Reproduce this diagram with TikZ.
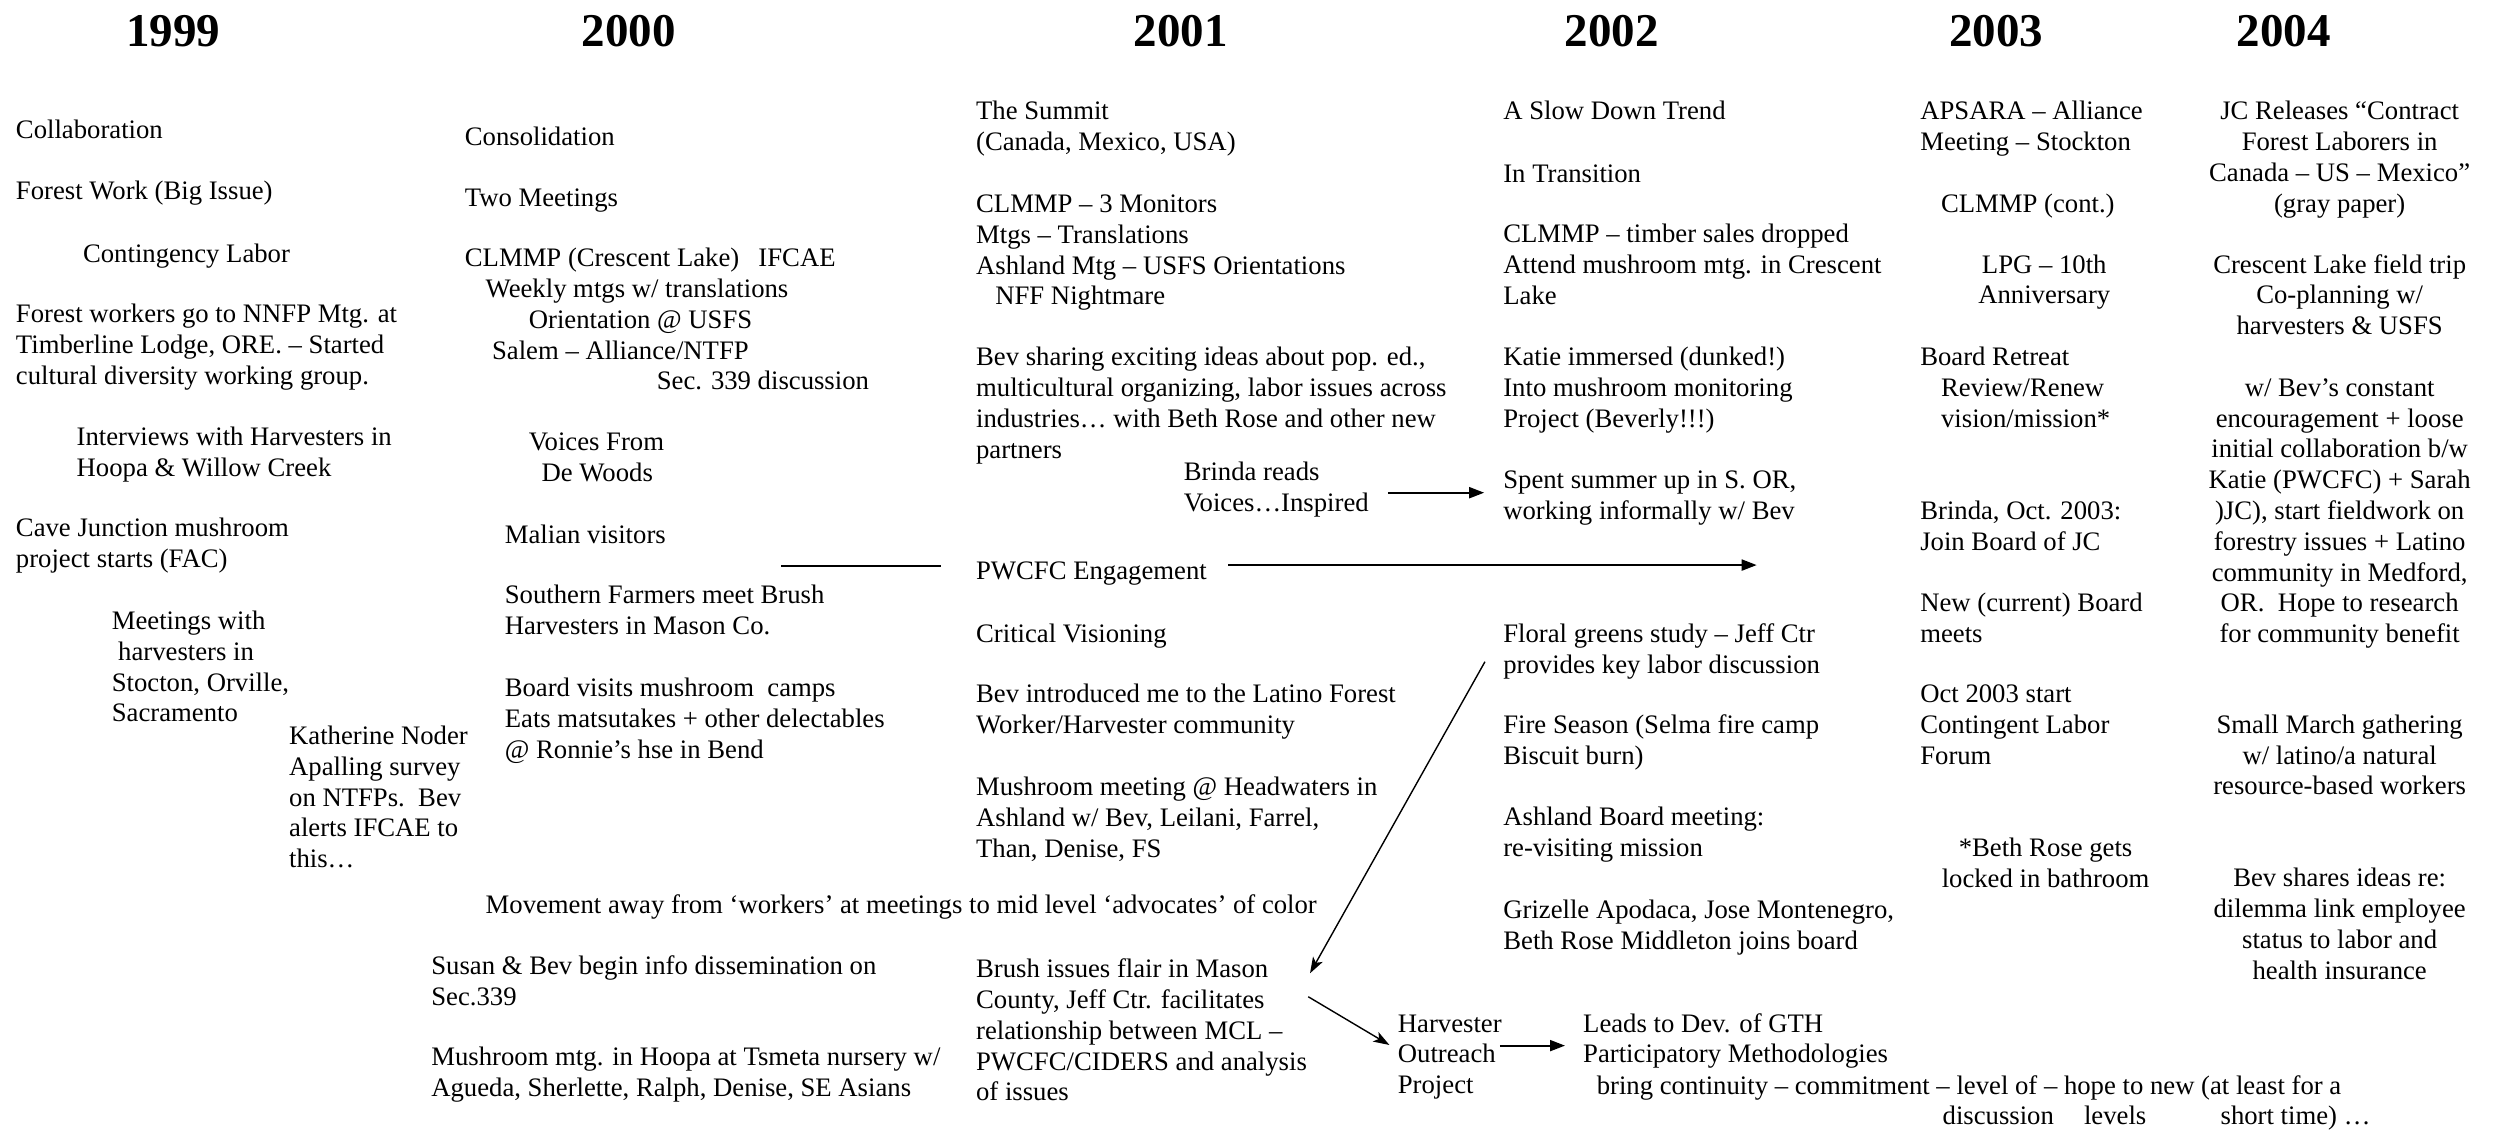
\documentclass[tikz,border=0pt]{standalone}
\usepackage{fontspec}
\setmainfont{Liberation Serif}
\usetikzlibrary{arrows.meta}
\newcommand\ind[1]{\hspace*{\dimexpr #1pt*16/10\relax}}
\begin{document}
\begin{tikzpicture}[x=1.5976pt,y=-1.5976pt,
  txt/.style={font=\fontsize{26.7}{30.8}\selectfont, inner sep=0pt, outer sep=0pt, align=left, anchor=base west},
  ctxt/.style={font=\fontsize{26.7}{30.8}\selectfont, inner sep=0pt, outer sep=0pt, align=center, anchor=base},
  L/.style={yshift={-(#1-1)*30.8pt}},
  yr/.style={font=\fontsize{47}{50}\selectfont\bfseries, inner sep=0pt, anchor=base},
  thickarr/.style={-{Triangle[length=15pt,width=11pt]}, line width=2pt},
  thinarr/.style={-{Stealth[length=16pt,width=11pt,inset=4pt]}, line width=1.4pt},
  plainline/.style={line width=2pt}]
\useasboundingbox[fill=white] (0,0) rectangle (1568,707);
% years
\node[yr] (y1999) at (108.6,29) {1999};
\node[yr] (y2000) at (393.5,29) {2000};
\node[yr] (y2001) at (739,29) {2001};
\node[yr] (y2002) at (1009,29) {2002};
\node[yr] (y2003) at (1249.5,29) {2003};
\node[yr] (y2004) at (1429.5,29) {2004};
% 1999
\node[txt] (c1) at (10,87) {Collaboration};
\node[txt] (c2) at (10,125) {Forest Work (Big Issue)};
\node[txt] (c3) at (52,164) {Contingency Labor};
\node[txt,L=3] (c4) at (10,202) {Forest workers go to NNFP Mtg. at\\Timberline Lodge, ORE. – Started\\cultural diversity working group.};
\node[txt,L=2] (c5) at (48,279) {Interviews with Harvesters in\\Hoopa \& Willow Creek};
\node[txt,L=2] (c6) at (10,336) {Cave Junction mushroom\\project starts (FAC)};
\node[txt,L=4] (c7) at (70,394) {Meetings with\\\ind{4}harvesters in\\Stocton, Orville,\\Sacramento};
\node[txt,L=5] (c8) at (181,466) {Katherine Noder\\Apalling survey\\on NTFPs.\ \ Bev\\alerts IFCAE to\\this…};
% 2000
\node[txt] (d1) at (291,91) {Consolidation};
\node[txt] (d2) at (291,129) {Two Meetings};
\node[txt,L=5] (d3) at (291,167) {CLMMP (Crescent Lake)\ind{12}IFCAE\\\ind{13}Weekly mtgs w/ translations\\\ind{40}Orientation @ USFS\\\ind{17}Salem – Alliance/NTFP\\\ind{120}Sec. 339 discussion};
\node[txt,L=2] (d4) at (331,282) {Voices From\\\ind{8}De Woods};
\node[txt] (d5) at (316,340) {Malian visitors};
\node[txt,L=2] (d6) at (316,378) {Southern Farmers meet Brush\\Harvesters in Mason Co.};
\node[txt,L=3] (d7) at (316,436) {Board visits mushroom\ \ camps\\Eats matsutakes + other delectables\\@ Ronnie’s hse in Bend};
\node[txt] (d8) at (304,572) {Movement away from ‘workers’ at meetings to mid level ‘advocates’ of color};
\node[txt,L=2] (d9) at (270,610) {Susan \& Bev begin info dissemination on\\Sec.339};
\node[txt,L=2] (d10) at (270,667) {Mushroom mtg. in Hoopa at Tsmeta nursery w/\\Agueda, Sherlette, Ralph, Denise, SE Asians};
% 2001
\node[txt,L=2] (e1) at (611,75) {The Summit\\(Canada, Mexico, USA)};
\node[txt,L=4] (e2) at (611,133) {CLMMP – 3 Monitors\\Mtgs – Translations\\Ashland Mtg – USFS Orientations\\\ind{12}NFF Nightmare};
\node[txt,L=4] (e3) at (611,229) {Bev sharing exciting ideas about pop. ed.,\\multicultural organizing, labor issues across\\industries… with Beth Rose and other new\\partners};
\node[txt,L=2] (e4) at (741,301) {Brinda reads\\Voices…Inspired};
\node[txt] (e5) at (611,363) {PWCFC Engagement};
\node[txt] (e6) at (611,402) {Critical Visioning};
\node[txt,L=2] (e7) at (611,440) {Bev introduced me to the Latino Forest\\Worker/Harvester community};
\node[txt,L=3] (e8) at (611,498) {Mushroom meeting @ Headwaters in\\Ashland w/ Bev, Leilani, Farrel,\\Than, Denise, FS};
\node[txt,L=5] (e9) at (611,612) {Brush issues flair in Mason\\County, Jeff Ctr. facilitates\\relationship between MCL –\\PWCFC/CIDERS and analysis\\of issues};
\node[txt,L=3] (e10) at (875,646) {Harvester\\Outreach\\Project};
\node[txt,L=2] (e11) at (991,646) {Leads to Dev. of GTH\\Participatory Methodologies};
\node[txt] (e12) at (999.5,685) {bring continuity – commitment – level of – hope to new (at least for a};
\node[txt] (lv1) at (1216,704) {discussion};
\node[txt] (lv2) at (1304.5,704) {levels};
\node[txt] (lv3) at (1390,704) {short time) …};
% 2002
\node[txt] (f1) at (941,75) {A Slow Down Trend};
\node[txt] (f2) at (941,114) {In Transition};
\node[txt,L=3] (f3) at (941,152) {CLMMP – timber sales dropped\\Attend mushroom mtg. in Crescent\\Lake};
\node[txt,L=3] (f4) at (941,229) {Katie immersed (dunked!)\\Into mushroom monitoring\\Project (Beverly!!!)};
\node[txt,L=2] (f5) at (941,306) {Spent summer up in S. OR,\\working informally w/ Bev};
\node[txt,L=2] (f6) at (941,402) {Floral greens study – Jeff Ctr\\provides key labor discussion};
\node[txt,L=2] (f7) at (941,459) {Fire Season (Selma fire camp\\Biscuit burn)};
\node[txt,L=2] (f8) at (941,517) {Ashland Board meeting:\\re-visiting mission};
\node[txt,L=2] (f9) at (941,575) {Grizelle Apodaca, Jose Montenegro,\\Beth Rose Middleton joins board};
% 2003
\node[txt,L=2] (g1) at (1202,75) {APSARA – Alliance\\Meeting – Stockton};
\node[txt] (g2) at (1215,133) {CLMMP (cont.)};
\node[ctxt,L=2] (g3) at (1279.6,171) {LPG – 10th\\Anniversary};
\node[txt,L=3] (g4) at (1202,229) {Board Retreat\\\ind{13}Review/Renew\\\ind{13}vision/mission*};
\node[txt,L=2] (g5) at (1202,325) {Brinda, Oct. 2003:\\Join Board of JC};
\node[txt,L=2] (g6) at (1202,383) {New (current) Board\\meets};
\node[txt,L=3] (g7) at (1202,440) {Oct 2003 start\\Contingent Labor\\Forum};
\node[ctxt,L=2] (g8) at (1280.4,536) {*Beth Rose gets\\locked in bathroom};
% 2004
\node[ctxt,L=4] (h1) at (1464.5,75) {JC Releases “Contract\\Forest Laborers in\\Canada – US – Mexico”\\(gray paper)};
\node[ctxt,L=3] (h2) at (1464.5,171) {Crescent Lake field trip\\Co-planning w/\\harvesters \& USFS};
\node[ctxt,L=9] (h3) at (1464.5,248) {w/ Bev’s constant\\encouragement + loose\\initial collaboration b/w\\Katie (PWCFC) + Sarah\\)JC), start fieldwork on\\forestry issues + Latino\\community in Medford,\\OR.\ \ Hope to research\\for community benefit};
\node[ctxt,L=3] (h4) at (1464.5,459) {Small March gathering\\w/ latino/a natural\\resource-based workers};
\node[ctxt,L=4] (h5) at (1464.5,555) {Bev shares ideas re:\\dilemma link employee\\status to labor and\\health insurance};
% connectors
\coordinate (l0s) at (489,354);
\coordinate (l0e) at (589,354);
\draw[plainline] (l0s) -- (l0e);
\coordinate (a1s) at (868.8,308.4);
\coordinate (a1e) at (929,308.4);
\draw[thickarr] (a1s) -- (a1e);
\coordinate (a2s) at (768.8,353.7);
\coordinate (a2e) at (1099.6,353.7);
\draw[thickarr] (a2s) -- (a2e);
\coordinate (a3s) at (929.5,414.2);
\coordinate (a3e) at (820,609.2);
\draw[thinarr] (a3s) -- (a3e);
\coordinate (a4s) at (818.9,623.9);
\coordinate (a4e) at (869.7,654.1);
\draw[thinarr] (a4s) -- (a4e);
\coordinate (a5s) at (938.9,654.5);
\coordinate (a5e) at (979.6,654.5);
\draw[thickarr] (a5s) -- (a5e);
\end{tikzpicture}
\end{document}
